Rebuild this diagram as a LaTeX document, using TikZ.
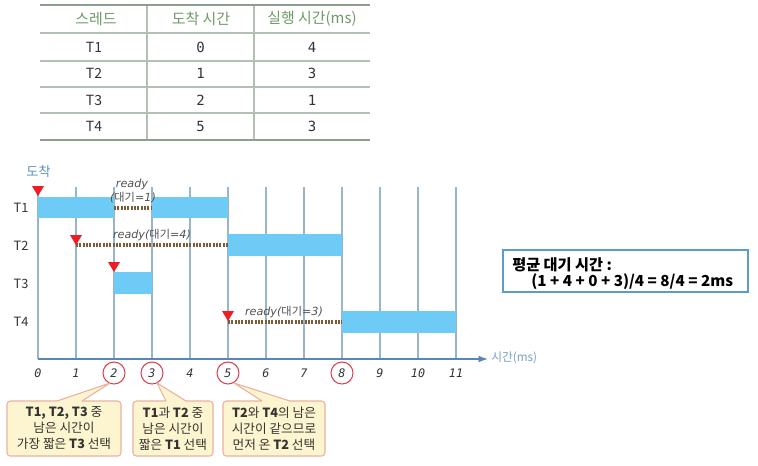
\documentclass[tikz,border=0pt]{standalone}
\usepackage{fontspec}
\setmainfont{Noto Sans CJK KR}
\newfontfamily\monof{DejaVu Sans Mono}
\newfontfamily\oblf{DejaVu Sans Oblique}
\newfontfamily\monoi{DejaVu Sans Mono Oblique}
\usetikzlibrary{arrows.meta}
\definecolor{hdrgreen}{HTML}{6F9A68}
\definecolor{rulecol}{HTML}{8E9E8E}
\definecolor{rulelight}{HTML}{B4C0B4}
\definecolor{txt}{HTML}{333333}
\definecolor{gridcol}{HTML}{9AB4CA}
\definecolor{axiscol}{HTML}{5A86B2}
\definecolor{barcol}{HTML}{6DCBF5}
\definecolor{waitcol}{HTML}{7A5C38}
\definecolor{trired}{HTML}{EE1C25}
\definecolor{circred}{HTML}{E04050}
\definecolor{callfill}{HTML}{FDF5CF}
\definecolor{callline}{HTML}{EBB0A0}
\definecolor{boxblue}{HTML}{5B9BD5}
\definecolor{arrtxt}{HTML}{5B8FC0}
\tikzset{
  x=0.75pt, y=-0.75pt,
  tbltxt/.style={text=txt, font=\fontsize{10.5}{12}\selectfont, inner sep=0},
  tblnum/.style={text=txt, font=\monof\fontsize{10.5}{12}\selectfont, inner sep=0},
  tblhdr/.style={text=hdrgreen, font=\fontsize{11.2}{13}\selectfont, inner sep=0},
  gridline/.style={draw=gridcol, line width=0.8pt},
  barbox/.style={fill=barcol},
  waitline/.style={draw=waitcol, line width=2.4pt, dash pattern=on 1.6pt off 0.9pt},
  rowlbl/.style={text=txt, font=\fontsize{9.6}{11}\selectfont, inner sep=0},
  axnum/.style={text=txt, font=\monoi\fontsize{8.8}{10}\selectfont, inner sep=0},
  rdylbl/.style={text=txt!85, font=\fontsize{8.4}{10}\selectfont, inner sep=0},
  mark circle/.style={draw=circred, line width=0.8pt, circle, minimum size=16.5pt, inner sep=0},
  callbox/.style={draw=callline, fill=callfill, line width=0.8pt, rounded corners=2.5pt},
  calltxt/.style={text=txt, font=\fontsize{9.5}{12}\selectfont, align=center, inner sep=0},
  avgtxt/.style={anchor=west, inner sep=0, font=\bfseries\fontsize{11.4}{13}\selectfont},
}
\newcommand{\rdyi}[1]{{\oblf #1}}
\begin{document}
\begin{tikzpicture}
\useasboundingbox (0,0) rectangle (758,465);
% ---------- table ----------
\draw[rulelight, line width=0.8pt] (147,5) -- (147,140) (254,5) -- (254,140);
\draw[rulelight, line width=0.8pt] (40,33) -- (370,33) (40,61) -- (370,61) (40,87) -- (370,87) (40,113) -- (370,113);
\draw[rulecol, line width=1.8pt] (40,5) -- (370,5) (40,140) -- (370,140);
\node[tblhdr] (h1) at (96,19) {스레드};
\node[tblhdr] (h2) at (201,19) {도착 시간};
\node[tblhdr] (h3) at (312,19) {실행 시간(ms)};
\foreach \n/\a/\b [count=\r from 0] in {T1/0/4,T2/1/3,T3/2/1,T4/5/3}{
  \node[tbltxt] (tn\r) at (94,47+26.6*\r) {\n};
  \node[tblnum] (ta\r) at (200.5,47+26.6*\r) {\a};
  \node[tblnum] (tb\r) at (312,47+26.6*\r) {\b};
}
% ---------- chart ----------
\foreach \i in {0,...,11} \draw[gridline] (38+38*\i,187) -- (38+38*\i,359);
\fill[barbox] (38,197) rectangle (114,218);
\fill[barbox] (152,197) rectangle (228,218);
\fill[barbox] (228,234) rectangle (342,256);
\fill[barbox] (114,272) rectangle (152,294);
\fill[barbox] (342,311) rectangle (456,333);
\draw[waitline] (114,208) -- (152,208);
\draw[waitline] (76,245) -- (228,245);
\draw[waitline] (228,322) -- (342,322);
\foreach \x/\y in {38/186,76/235,114/262,228/311}
  \fill[trired] (\x-6,\y) -- (\x+6,\y) -- (\x,\y+10) -- cycle;
\coordinate (axs) at (38,359);
\coordinate (axe) at (488,359);
\draw[axiscol, line width=0.9pt, -{Latex[length=7pt,width=5pt]}] (axs) -- (axe);
\node[text=axiscol!80, font=\fontsize{8.8}{10}\selectfont, anchor=west, inner sep=0] (axl) at (491,358) {시간(ms)};
\node[text=arrtxt, font=\fontsize{9.8}{11}\selectfont, inner sep=0] (arr) at (38.5,172) {도착};
\foreach \t [count=\r from 0] in {T1,T2,T3,T4}
  \node[rowlbl] (rl\r) at (21,207.5+38.2*\r) {\t};
\foreach \i in {0,...,11}
  \node[axnum] (n\i) at (38+38*\i,373) {\i};
\foreach \i in {2,3,5,8}
  \node[mark circle] (c\i) at (38+38*\i,373) {};
\node[rdylbl] (r1a) at (132,184) {\rdyi{ready}};
\node[rdylbl] (r1b) at (133,198) {\rdyi{(}대기\rdyi{=1)}};
\node[rdylbl] (r2) at (152,235) {\rdyi{ready(}대기\rdyi{=4)}};
\node[rdylbl] (r4) at (284,312) {\rdyi{ready(}대기\rdyi{=3)}};
% ---------- callouts ----------
\draw[callbox] (7,401) rectangle (121,456);
\draw[callbox] (133,401) rectangle (213,456);
\draw[callbox] (223,401) rectangle (325,456);
\foreach \a/\b/\tx/\ty in {57/82/110/383, 166/186/157/383, 262/290/234/383}{
  \fill[callfill] (\a+0.6,402.2) -- (\a,401) -- (\tx,\ty) -- (\b,401) -- (\b-0.6,402.2) -- cycle;
  \draw[callline, line width=0.8pt, line join=round] (\a,401) -- (\tx,\ty) -- (\b,401);
}
\node[calltxt] (k1) at (64,428.5) {\textbf{T1, T2, T3} 중\\남은 시간이\\가장 짧은 \textbf{T3} 선택};
\node[calltxt] (k2) at (173,428.5) {\textbf{T1}과 \textbf{T2} 중\\남은 시간이\\짧은 \textbf{T1} 선택};
\node[calltxt] (k3) at (274,428.5) {\textbf{T2}와 \textbf{T4}의 남은\\시간이 같으므로\\먼저 온 \textbf{T2} 선택};
% ---------- average box ----------
\draw[boxblue, line width=1pt] (503,250) rectangle (748,292);
\node[avgtxt] (avg1) at (512,265) {평균 대기 시간 :};
\node[avgtxt] (avg2) at (531,282) {(1 + 4 + 0 + 3)/4 = 8/4 = 2ms};
\end{tikzpicture}
\end{document}
